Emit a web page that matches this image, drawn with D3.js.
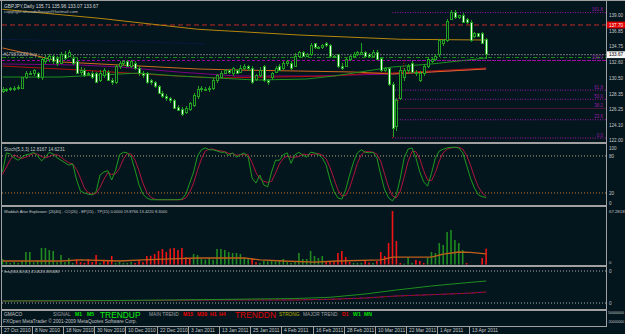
<!DOCTYPE html>
<html><head><meta charset="utf-8">
<script src="https://cdn.jsdelivr.net/npm/d3@7/dist/d3.min.js"></script>
<style>html,body{margin:0;padding:0;background:#03161e;overflow:hidden}svg{display:block}</style>
</head><body>
<svg id="chart" width="625" height="334"></svg>
<script>
// ---------------- DATA ----------------
const dateLabels = ["27 Oct 2010","8 Nov 2010","18 Nov 2010","30 Nov 2010","10 Dec 2010","22 Dec 2010","3 Jan 2011","13 Jan 2011","25 Jan 2011","4 Feb 2011","16 Feb 2011","28 Feb 2011","10 Mar 2011","22 Mar 2011","1 Apr 2011","13 Apr 2011"];
const dateIdx = [0,8,16,24,32,40,48,56,64,72,80,88,96,104,112,120];

const open = [128.74,129.01,129.15,128.88,129.08,129.15,130.51,131.18,131.05,131.18,
130.51,132.81,132.95,133.36,133.22,132.54,133.76,133.49,133.22,132.81,
131.32,131.59,131.05,131.18,131.18,130.23,130.78,131.32,130.23,129.96,
132.00,132.41,132.68,132.13,132.54,131.86,131.05,131.05,130.10,129.83,
129.42,128.47,128.06,127.66,127.52,126.57,126.30,125.89,126.30,126.71,
127.93,128.88,129.01,128.88,129.15,130.10,130.64,131.18,131.46,131.05,
131.59,131.32,131.86,132.00,131.86,130.37,130.78,132.00,130.10,130.51,
131.32,132.13,131.86,132.41,132.54,132.13,133.49,133.90,133.49,133.76,
135.12,134.71,134.58,135.25,134.98,133.49,133.63,132.13,132.13,132.95,
133.36,133.63,133.76,134.03,133.63,133.49,134.03,133.22,131.59,131.73,
129.69,123.86,127.79,130.51,131.46,132.54,131.32,130.23,131.05,132.13,
132.81,133.08,133.63,135.12,135.53,138.51,139.46,138.78,139.05,138.38,
138.10,136.07,136.48,136.61,135.71];
const high = [129.28,129.15,129.28,129.42,129.56,130.64,131.46,131.46,131.73,131.32,
133.22,133.63,133.76,133.63,133.49,134.03,134.17,134.30,133.63,133.22,
132.00,131.86,131.32,131.46,131.32,131.59,131.86,131.59,130.51,132.27,
132.81,132.95,132.95,132.95,132.81,132.13,131.46,131.32,130.37,130.10,
129.56,128.74,128.33,127.93,127.66,126.84,126.57,126.71,127.25,128.47,
129.42,129.42,129.28,129.42,130.51,131.05,131.46,131.73,131.73,132.00,
131.73,132.27,132.41,132.27,132.13,131.05,132.00,132.27,130.37,131.32,
132.13,132.41,132.81,132.95,132.81,133.90,134.17,134.17,133.90,135.25,
135.25,134.85,135.12,135.39,135.12,133.63,133.76,132.54,133.22,133.63,
134.03,134.17,135.25,134.17,133.90,134.30,134.30,133.36,132.00,132.00,
129.96,127.79,132.00,131.86,132.41,132.81,131.59,131.46,132.41,133.36,
133.36,133.76,135.80,135.80,138.51,139.73,139.73,139.05,139.33,138.65,
138.38,136.75,136.61,136.75,135.96];
const low = [128.47,128.61,128.74,128.74,128.88,129.01,130.37,130.91,130.78,130.37,
130.23,132.41,132.68,132.41,132.13,132.41,132.95,133.36,132.27,131.05,
130.91,130.64,130.78,130.37,129.83,129.96,130.51,130.10,129.56,129.69,
131.73,132.13,132.00,131.86,131.59,130.78,130.51,129.69,129.56,129.15,
128.33,127.79,127.38,127.11,126.30,126.03,125.35,125.62,126.03,126.57,
127.66,128.61,128.74,128.61,128.88,129.83,130.51,131.05,131.05,130.78,
131.05,131.18,131.59,131.46,129.69,130.10,130.64,129.96,129.56,130.23,
131.18,131.46,131.59,132.13,131.59,132.00,133.22,133.36,133.36,133.49,
134.44,134.44,134.44,134.71,133.22,133.22,131.86,131.59,132.00,132.81,
133.22,133.49,133.63,133.36,133.22,133.36,132.95,131.32,131.32,129.42,
122.50,123.31,127.52,130.10,131.18,131.18,130.78,129.96,130.78,131.86,
132.54,132.81,133.36,134.85,135.39,138.38,138.51,138.51,137.97,137.83,
135.39,135.93,136.07,135.12,133.07];
const close = [129.01,128.88,128.88,129.15,129.22,130.51,131.18,131.11,131.46,130.51,
132.95,133.22,133.36,132.68,132.41,133.63,133.22,134.03,132.54,131.18,
131.59,130.91,131.18,130.64,129.96,131.05,131.46,130.23,129.83,132.00,
132.54,132.68,132.13,132.68,131.86,131.05,130.78,129.96,129.83,129.42,
128.47,127.93,127.66,127.52,126.43,126.16,125.62,126.43,126.98,128.20,
129.01,129.15,128.88,129.15,130.23,130.78,131.18,131.46,131.32,131.73,
131.18,131.86,132.00,131.73,129.96,130.78,131.59,130.23,129.83,131.18,
131.86,131.59,132.54,132.68,131.73,133.49,133.90,133.49,133.63,134.98,
134.58,134.58,134.85,134.85,133.36,133.36,132.00,131.86,132.95,133.36,
133.63,133.90,134.03,133.49,133.49,134.03,133.08,131.46,131.73,129.69,
123.72,127.52,131.59,131.46,132.13,131.32,131.05,131.18,132.13,133.08,
133.08,133.49,135.53,135.53,138.24,139.33,138.65,138.92,138.10,138.10,
135.66,136.48,136.20,135.25,133.67];

const priceTicks = [122.00,124.10,126.25,128.35,130.50,132.60,134.75,136.85,139.00];
const bidPrice = 133.67;
const tpPrice = 137.70;
const orderPrice = 133.29;
const slPrice = 132.88;

// moving averages (bar index, value)
const maGoldIdx = [0,25,50,76,102,124];
const maGold = [139.83,138.60,137.12,136.34,135.76,135.66];
const maOrangeIdx = [0,8,15,25,40,50,60,75,90,100,110,124];
const maOrange = [134.58,133.63,132.68,132.41,132.00,131.73,131.59,131.46,131.32,131.05,131.32,131.73];
const maRedIdx = [0,20,40,55,70,85,95,100,110,124];
const maRed = [132.13,131.59,130.91,130.51,130.64,130.78,131.18,131.18,131.46,131.86];
const maPurpleIdx = [0,20,30,45,60,80,100,124];
const maPurple = [132.41,132.27,132.00,131.32,130.78,130.78,131.05,131.73];
const maGreenIdx = [0,15,25,35,45,55,65,78,85,95,100,110,124];
const maGreen = [130.64,130.64,130.91,131.18,130.78,130.51,130.23,130.37,130.78,131.59,132.00,132.41,133.22];
const maNavyIdx = [0,38,52];
const maNavy = [135.73,135.39,135.12];

// fibonacci retracement
const fibStartIdx = 100, fibEndIdx = 103;
const fibLow = 122.36, fibHigh = 132.88;
const fibLevels = [0,23.6,38.2,50,61.8,100,161.8];
const fibLabels = ["0.0","23.6","38.2","50.0","61.8","100.0","161.8"];

// stochastic
const stochK = [54,85,83,77,73,78,82,83,86,80,
72,78,86,83,77,73,69,65,67,41,
23,20,18,17,22,49,54,56,41,57,
82,86,85,78,57,33,18,12,9,9,
9,9,9,9,9,9,10,18,36,54,
80,90,93,90,90,88,86,86,81,85,
78,82,85,78,44,36,49,33,30,54,
73,73,82,85,68,82,86,81,78,86,
85,82,77,65,41,22,12,10,25,49,
70,85,90,86,85,86,77,49,25,12,
7,17,44,77,91,93,77,54,38,31,
52,77,88,91,93,94,94,93,85,65,
44,28,17,14,12.8167];
const stochD = [50,62,74,82,78,76,78,81,84,83,
79,77,79,82,82,78,73,69,67,58,
44,28,20,18,19,29,42,53,50,51,
60,75,84,83,73,56,36,21,13,10,
9,9,9,9,9,9,9,12,21,36,
57,75,88,91,91,89,88,87,84,84,
81,82,82,82,69,53,43,39,37,39,
52,67,76,80,78,78,79,83,82,82,
83,84,81,75,61,43,25,15,16,28,
48,68,82,87,87,86,83,71,50,29,
15,12,23,46,71,87,87,75,56,41,
40,53,72,85,91,93,94,94,91,81,
65,46,30,20,14.6231];
const stochLevels = [80,20];
const stochTicks = [100,80,20,0];

// Waddah Attar Explosion
const wGreen = [6.9,3,2,3,2,4,15.7,15.7,3,5,
20.8,20.8,18.2,17,3,12,3,8,2,0,
0,0,0,0,0,2,0,0,0,2,
3,2,2,3,0,0,0,0,0,0,
0,0,0,0,0,0,0,0,0,13.2,
11.9,7,6,8,6,19.5,19.5,18.2,15.7,14.5,
14.5,13.2,9,8.2,0,0,2,4.4,4,5,
4,5,6.9,3,2,3.1,14.5,6.9,6.9,17,
10.7,8.2,10.7,0,0,0,0,0,0,0,
2,2,2,0,0,2,0,0,0,0,
0,0,0,1,9.4,2,0,0,0,8.2,
15.7,14.5,27,24.5,40.9,43.4,30.8,27,18.2,0,
0,0,0,0,0];
const wRed = [0,0,0,0,0,0,0,0,0,0,
0,0,0,0,0,0,0,0,0,6.9,
3,2,6.9,3,12,0,6,5,10.7,0,
0,0,0,0,2,5.7,3,10.7,11,13.2,
17,19.5,15.7,20,20.8,18.2,20.8,9.4,8.2,0,
0,0,0,0,0,0,0,0,0,0,
0,0,0,0,8.2,3,0,0,0,0,
0,0,0,0,0,0,0,0,0,0,
0,0,0,3.1,3.1,3.1,14.5,17,9.4,3.1,
0,0,0,5.7,2.5,0,4.4,15.7,10.7,27,
67.2818,29.6,1.9,0,0,0,5.7,4.4,1.9,0,
0,0,0,0,0,0,0,0,0,1.9,
0,0,0,8.2,19.8766];
const wExpIdx = [0,15,20,30,36,45,50,62,66,72,80,86,97,100,110,113,117,120,124];
const wExp = [4.4,4.4,5.7,4.4,5.7,7.5,8.2,8.2,5.7,4.4,3.1,4.4,5.7,9.4,9.4,13,15.7,15.2,13.422];
const wTicks = [67.2818,0];

// third indicator window
const imaIdx = [0,30,55,75,84,93,101,110,119,124];
const imaGreen = [4.4,5.5,7.7,9.8,12.5,19.7,28.4,37.2,44.4,48.1];
const imaRed = [4.4,5,6.6,6.6,8.1,10.9,15.3,18.2,21.2,24.1];
const imaLevels = [70,0];

// ---------------- DRAW ----------------
const BG="#03161e", FRAME="#a0a0a0", AX="#c8c8c8", FONT="'Liberation Sans',Arial,sans-serif";
const svg = d3.select("#chart");
svg.append("rect").attr("width",625).attr("height",334).attr("fill",BG);
const PL=2, PR=606;
const x = d3.scaleLinear().domain([0,124]).range([2.5,486.1]);
const yP = d3.scaleLinear().domain([122,139]).range([140.7,15.4]);
const yS = d3.scaleLinear().domain([0,100]).range([205.3,143.6]);
const yW = d3.scaleLinear().domain([0,67.2818]).range([264.5,211]);
const yI = d3.scaleLinear().domain([0,70]).range([303,271]);
const defs = svg.append("defs");
function clip(id,y0,y1){defs.append("clipPath").attr("id",id).append("rect").attr("x",PL).attr("y",y0).attr("width",PR-PL).attr("height",y1-y0);}
clip("cMain",2,142);clip("cSto",145,205);clip("cWad",207,265);clip("cIma",267,308.5);

function txt(g,s,xx,yy,size,fill,anchor,weight){
  return g.append("text").attr("x",xx).attr("y",yy).attr("font-family",FONT).attr("font-size",size)
   .attr("fill",fill).attr("text-anchor",anchor||"start").attr("font-weight",weight||"normal").text(s);
}
function pline(g,idx,vals,ys,color,w,dash){
  const l=d3.line().x((d,i)=>x(idx[i])).y(d=>ys(d));
  const p=g.append("path").attr("d",l(vals)).attr("fill","none").attr("stroke",color).attr("stroke-width",w||1);
  if(dash)p.attr("stroke-dasharray",dash);
  return p;
}
function hline(g,yy,color,dash,w,x0){
  const p=g.append("line").attr("x1",x0||PL).attr("x2",PR).attr("y1",yy).attr("y2",yy).attr("stroke",color).attr("stroke-width",w||1);
  if(dash)p.attr("stroke-dasharray",dash);return p;
}

// ----- main chart
const gm = svg.append("g").attr("clip-path","url(#cMain)");
hline(gm,yP(tpPrice),"#c0282a","5,3");
pline(gm,maNavyIdx,maNavy,yP,"#1a1a80",1,"1,2");
pline(gm,maGoldIdx,maGold,yP,"#b8860b",1);
hline(gm,yP(bidPrice),"#707070","2,1");
hline(gm,yP(orderPrice),"#1c8c1c","4,2,1,2");
hline(gm,yP(slPrice),"#a000a0","3,2");
pline(gm,maPurpleIdx,maPurple,yP,"#800080",1);
pline(gm,maRedIdx,maRed,yP,"#b01010",1);
pline(gm,maOrangeIdx,maOrange,yP,"#d2691e",1);
pline(gm,maGreenIdx,maGreen,yP,"#1f8f1f",1);
// fibonacci
fibLevels.forEach((lv,k)=>{
  const pr = fibLow+(fibHigh-fibLow)*lv/100;
  const yy=yP(pr);
  if(lv===38.2) hline(gm,yy,"#4a1838",null,1,x(fibStartIdx));
  else hline(gm,yy,"#9a18a8","1,1.5",1,x(fibStartIdx));
  txt(gm,fibLabels[k],603,yy-1.5,4.5,"#9a18a8","end");
});
gm.append("line").attr("x1",x(fibStartIdx)).attr("y1",yP(fibLow)).attr("x2",x(fibEndIdx)).attr("y2",yP(fibHigh))
  .attr("stroke","#d01010").attr("stroke-dasharray","1,1.5");
// candles
const cg = gm.append("g").attr("shape-rendering","crispEdges");
open.forEach((o,i)=>{
  const cx=Math.round(x(i)), c=close[i];
  cg.append("line").attr("x1",cx+0.5).attr("x2",cx+0.5).attr("y1",yP(high[i])).attr("y2",yP(low[i])).attr("stroke","#22a022");
  const top=yP(Math.max(o,c)), bot=yP(Math.min(o,c));
  cg.append("rect").attr("x",cx-0.5).attr("y",top).attr("width",2).attr("height",Math.max(1,bot-top))
    .attr("fill", c<o ? "#eaffea" : BG).attr("stroke","#22a022").attr("stroke-width",1);
});
txt(svg,"GBPJPY,Daily  135.71 135.96 133.07 133.67",4,7.5,4.8,"#d8d8d8");
txt(svg,"copyright:alsuadalhasan@hotmail.com",4,12.5,4.3,"#c0c0c0");
txt(svg,"#179870060 buy",3.5,56,4.5,"#b0b0b0");

// ----- stochastic
const gs = svg.append("g").attr("clip-path","url(#cSto)");
hline(gs,yS(stochLevels[0]),"#b8a878","1,2");
hline(gs,yS(stochLevels[1]),"#c07838","1,2");
const idxAll = open.map((d,i)=>i);
pline(gs,idxAll,stochD,yS,"#b0143e",1);
pline(gs,idxAll,stochK,yS,"#1f9a1f",1);
txt(svg,"Stoch(5,3,3) 12.8167 14.6231",4,151,4.6,"#c8c8c8");

// ----- waddah
const gw = svg.append("g").attr("clip-path","url(#cWad)");
wGreen.forEach((v,i)=>{ if(v>0) gw.append("rect").attr("x",x(i)-0.8).attr("y",yW(v)).attr("width",1.6).attr("height",yW(0)-yW(v)).attr("fill","#1f8a1f");});
wRed.forEach((v,i)=>{ if(v>0) gw.append("rect").attr("x",x(i)-0.8).attr("y",yW(v)).attr("width",1.6).attr("height",yW(0)-yW(v)).attr("fill","#f01414");});
pline(gw,wExpIdx,wExp,yW,"#c0601a",1.3);
txt(svg,"Waddah Attar Explosion: [20|40] - CO(20) - EP(15) - TP(15) 0.0000 19.8766 13.4220 8.3000",4,213,4.0,"#c8c8c8");

// ----- third window
const gi = svg.append("g").attr("clip-path","url(#cIma)");
imaLevels.forEach(l=>hline(gi,yI(l),"#b0b0b0","1,2"));
pline(gi,imaIdx,imaRed,yI,"#a01818",1);
pline(gi,imaIdx,imaRed,yI,"#800080",1,"3,4");
pline(gi,imaIdx,imaGreen,yI,"#1f8f1f",1);
txt(svg,"Ima(300,60,60) 41.4626 48.6486",4,273,3.8,"#c8c8c8");

// ----- GMACO row
const gy=316;
txt(svg,"GMACO",4,gy,4.8,"#c8c8c8");
txt(svg,"SIGNAL",53,gy,4.8,"#a0a0a0");
txt(svg,"M1",75,gy,5.2,"#00e000","start","bold");
txt(svg,"M5",87,gy,5.2,"#00e000","start","bold");
txt(svg,"TRENDUP",100,gy+1.5,8.4,"#10f010");
txt(svg,"MAIN TREND",149,gy,4.8,"#a0a0a0");
txt(svg,"M15",183,gy,5.2,"#f00000","start","bold");
txt(svg,"M30",197,gy,5.2,"#f00000","start","bold");
txt(svg,"H1",210,gy,5.2,"#f00000","start","bold");
txt(svg,"H4",219,gy,5.2,"#f00000","start","bold");
txt(svg,"TRENDDN",235,gy+1.5,8.4,"#e00000");
txt(svg,"STRONG",279,gy,4.8,"#b8b000");
txt(svg,"MAJOR TREND",303,gy,4.8,"#a0a0a0");
txt(svg,"D1",342,gy,5.2,"#e00000","start","bold");
txt(svg,"W1",353,gy,5.2,"#00e000","start","bold");
txt(svg,"MN",364,gy,5.2,"#00e000","start","bold");
txt(svg,"FXOpen MetaTrader © 2001-2009 MetaQuotes Software Corp.",3,323,4.8,"#c0c0c0");

// ----- frame
const fr = svg.append("g").attr("shape-rendering","crispEdges");
fr.append("rect").attr("x",0).attr("y",0).attr("width",625).attr("height",1).attr("fill",FRAME);
fr.append("rect").attr("x",1).attr("y",0).attr("width",1).attr("height",326).attr("fill",FRAME);
fr.append("rect").attr("x",606).attr("y",0).attr("width",1).attr("height",326).attr("fill",FRAME);
[142,205,265,308.5].forEach(yy=>fr.append("rect").attr("x",1).attr("y",yy).attr("width",606).attr("height",2).attr("fill",FRAME));
fr.append("rect").attr("x",0).attr("y",325.5).attr("width",607).attr("height",1).attr("fill",FRAME);

// ----- right axis
priceTicks.forEach(t=>txt(svg,t.toFixed(2),609,yP(t)+1.7,4.6,AX));
const tpy=yP(tpPrice);
svg.append("rect").attr("x",607).attr("y",tpy-3.4).attr("width",18).attr("height",6.8).attr("fill","#e00000");
txt(svg,tpPrice.toFixed(2),609,tpy+1.7,4.6,"#ffffff");
const by=yP(bidPrice);
svg.append("rect").attr("x",607).attr("y",by-3.4).attr("width",18).attr("height",6.8).attr("fill","#f4f4f4");
txt(svg,bidPrice.toFixed(2),609,by+1.7,4.6,"#000000");
stochTicks.forEach(t=>txt(svg,String(t),609,Math.min(Math.max(yS(t),148),203)+1.7,4.6,AX));
wTicks.forEach(t=>txt(svg,t===0?"0":t.toFixed(4),609,(t===0?262:211)+1.7,4.3,AX));
txt(svg,"0",609,272.5,4.6,AX);txt(svg,"0",609,304.5,4.6,AX);
txt(svg,"50000000",608,314,3.6,AX);txt(svg,"-50000000",607.5,323,3.5,AX);

// ----- time axis
dateIdx.forEach((d,k)=>{
  const xx=Math.round(x(d))-2;
  svg.append("rect").attr("x",xx).attr("y",326).attr("width",1).attr("height",8).attr("fill",FRAME);
  txt(svg,dateLabels[k],xx+3,332,4.9,AX);
});
</script>
</body></html>
